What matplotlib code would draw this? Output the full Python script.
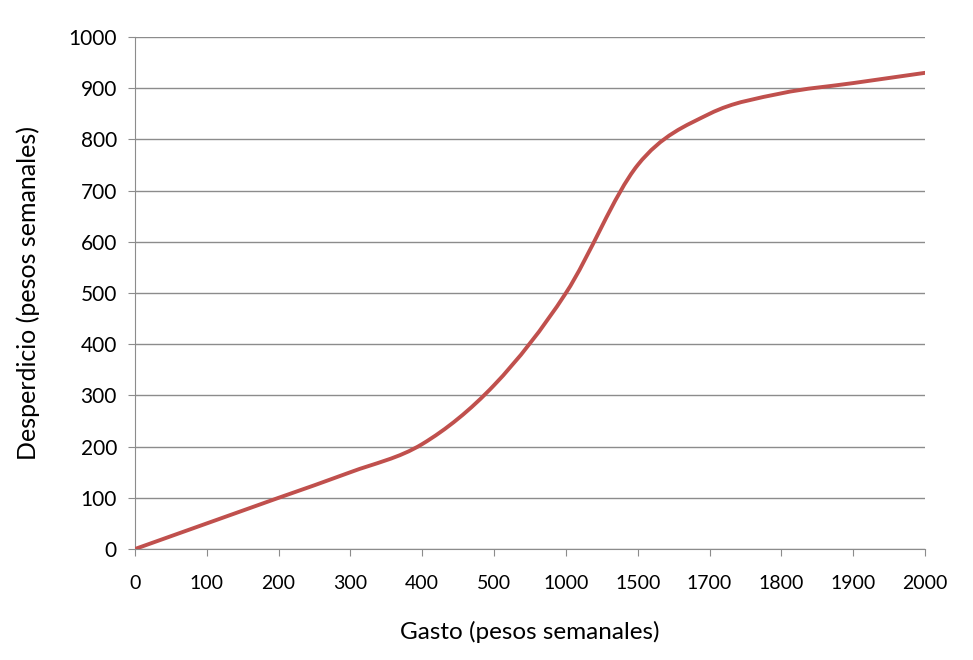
import matplotlib
matplotlib.use('Agg')
import matplotlib.pyplot as plt
import numpy as np
from matplotlib.path import Path
from matplotlib.patches import PathPatch

# Datos
gasto = ['0', '100', '200', '300', '400', '500', '1000', '1500', '1700', '1800', '1900', '2000']
desperdicio = [0, 50, 100, 150, 205, 320, 500, 750, 850, 890, 910, 930]

plt.rcParams['font.family'] = ['Lato', 'DejaVu Sans']

fig = plt.figure(figsize=(9.73, 6.6), dpi=100)
ax = fig.add_axes([135/973, 1 - 549/660, 790/973, 512/660])

# Línea suavizada (Bezier tipo Excel) a través de los puntos
x = np.arange(len(gasto), dtype=float)
y = np.array(desperdicio, dtype=float)
verts = [(x[0], y[0])]
codes = [Path.MOVETO]
n = len(x)
for i in range(n - 1):
    x0, y0 = (x[i - 1], y[i - 1]) if i > 0 else (x[i], y[i])
    x3, y3 = (x[i + 2], y[i + 2]) if i + 2 < n else (x[i + 1], y[i + 1])
    c1 = (x[i] + (x[i + 1] - x0) / 6, y[i] + (y[i + 1] - y0) / 6)
    c2 = (x[i + 1] - (x3 - x[i]) / 6, y[i + 1] - (y3 - y[i]) / 6)
    verts += [c1, c2, (x[i + 1], y[i + 1])]
    codes += [Path.CURVE4] * 3
patch = PathPatch(Path(verts, codes), facecolor='none', edgecolor='#C0504D',
                  lw=2.8, capstyle='round', joinstyle='round', zorder=5)
ax.add_patch(patch)

ax.set_xlim(0, n - 1)
ax.set_ylim(0, 1000)
ax.set_xticks(x)
ax.set_xticklabels(gasto)
ax.set_yticks(np.arange(0, 1001, 100))

ax.grid(axis='y', color='#8c8c8c', lw=1)
ax.set_axisbelow(True)
for s in ['top', 'right']:
    ax.spines[s].set_visible(False)
for s in ['left', 'bottom']:
    ax.spines[s].set_color('#8c8c8c')
ax.tick_params(axis='both', length=5, color='#8c8c8c', labelcolor='black')
ax.tick_params(axis='x', pad=14, labelsize=14)
ax.tick_params(axis='y', pad=8, labelsize=15)

ax.set_xlabel('Gasto (pesos semanales)', fontsize=17.5)
ax.set_ylabel('Desperdicio (pesos semanales)', fontsize=18)
ax.xaxis.set_label_coords(530/973, 1 - 632/660, transform=fig.transFigure)
ax.yaxis.set_label_coords(28/973, 1 - 293/660, transform=fig.transFigure)
ax.xaxis.label.set_va('center')
ax.yaxis.label.set_va('center')

fig.savefig('out.png', dpi=100)
